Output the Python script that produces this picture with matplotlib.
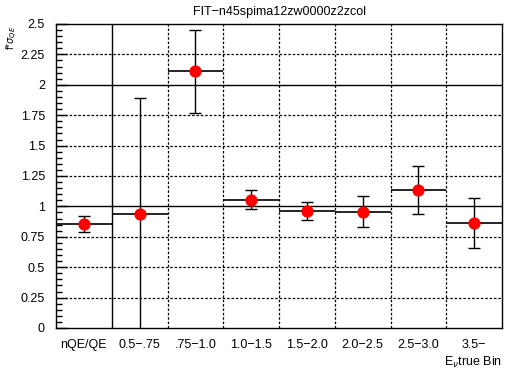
import matplotlib
matplotlib.use("Agg")
import matplotlib.pyplot as plt
import numpy as np
from matplotlib.ticker import MultipleLocator

categories = ["nQE/QE", "0.5\u2212.75", ".75\u22121.0", "1.0\u22121.5", "1.5\u22122.0",
              "2.0\u22122.5", "2.5\u22123.0", "3.5\u2212"]
values = [0.855, 0.935, 2.11, 1.053, 0.962, 0.957, 1.135, 0.863]
err_up = [0.07, 0.955, 0.34, 0.08, 0.073, 0.126, 0.195, 0.21]
err_dn = [0.065, 0.955, 0.34, 0.077, 0.076, 0.129, 0.2, 0.208]

plt.rcParams['font.family'] = ['Liberation Sans', 'DejaVu Sans']
fig = plt.figure(figsize=(5.12, 3.72), dpi=100)
ax = fig.add_axes([56/512, 44/372, 446/512, 304/372])

n = len(categories)
x = np.arange(n) + 0.5
ax.set_xlim(0, n)
ax.set_ylim(0, 2.5)

# grid
for xv in range(1, n):
    if xv == 1:
        ax.axvline(xv, color='black', lw=1.0, zorder=1)
    else:
        ax.axvline(xv, color='black', lw=0.9, ls=(0, (2, 1.5)), zorder=1)
for yv in np.arange(0.25, 2.5, 0.25):
    if abs(yv - 1) < 1e-6 or abs(yv - 2) < 1e-6:
        ax.axhline(yv, color='black', lw=1.0, zorder=1)
    else:
        ax.axhline(yv, color='black', lw=0.9, ls=(0, (2, 1.5)), zorder=1)

ax.errorbar(x, values, xerr=0.5, fmt='none', ecolor='black', elinewidth=1.2, capsize=0, zorder=3)
ax.errorbar(x, values, yerr=[err_dn, err_up], fmt='none', ecolor='black', elinewidth=1.0,
            capsize=4, capthick=1.0, zorder=3)
ax.plot(x, values, 'o', color='#ff0000', markersize=7.8, zorder=4)

ax.set_xticks(x)
ax.set_xticklabels(categories, fontsize=9)
ax.tick_params(axis='x', length=0, pad=8)
ax.yaxis.set_major_locator(MultipleLocator(0.25))
ax.yaxis.set_minor_locator(MultipleLocator(0.05))
ax.set_yticks(np.arange(0, 2.51, 0.25))
ax.set_yticklabels(["0", "0.25", "0.5", "0.75", "1", "1.25", "1.5", "1.75", "2", "2.25", "2.5"], fontsize=9)
ax.tick_params(axis='y', which='major', direction='in', length=8, width=1, pad=8)
ax.tick_params(axis='y', which='minor', direction='in', length=4, width=1)
for s in ax.spines.values():
    s.set_linewidth(1.0)

fig.text(280/512, 1 - 12/372, "FIT\u2212n45spima12zw0000z2zcol", ha='center', va='center', fontsize=9)
fig.text(12/512, 1 - 38/372, r"f*$\sigma_{QE}$", rotation=90, ha='center', va='center', fontsize=7)
fig.text(502/512, 1 - 362/372, r"E$_\nu$true Bin", ha='right', va='center', fontsize=9)

fig.savefig("out.png", dpi=100)
